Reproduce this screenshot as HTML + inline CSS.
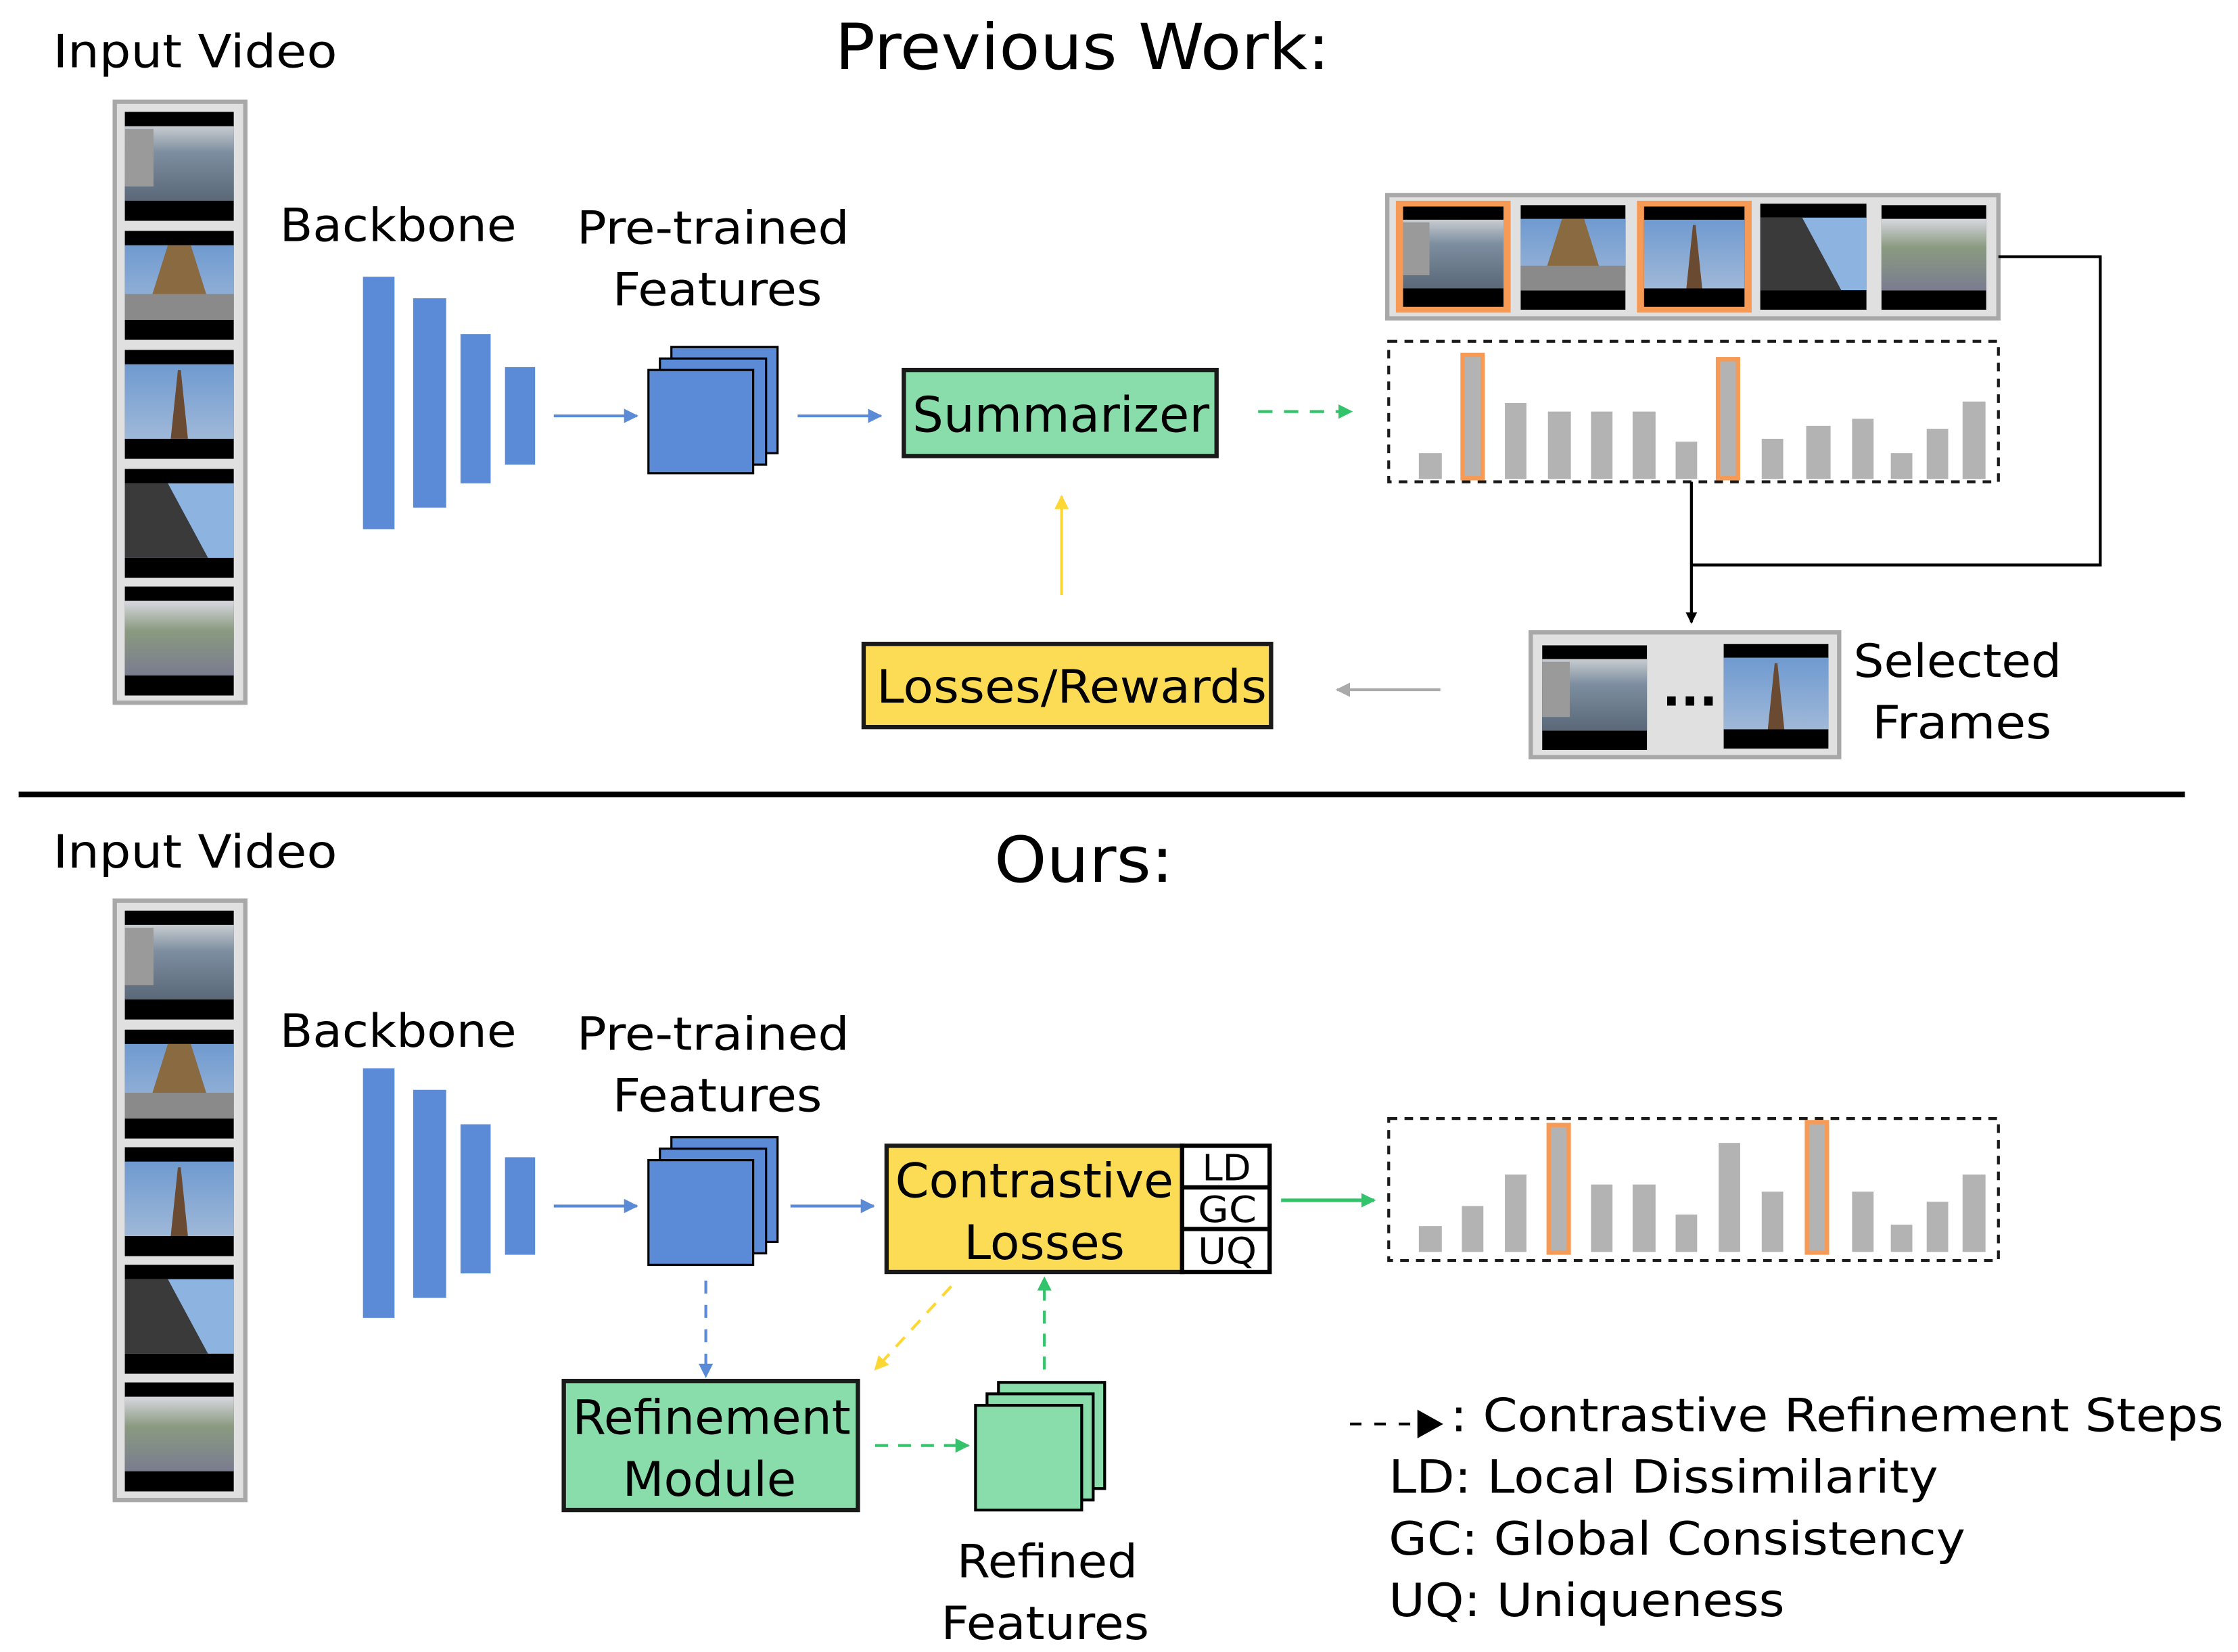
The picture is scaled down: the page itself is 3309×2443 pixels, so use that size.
<!DOCTYPE html>
<html><head><meta charset="utf-8"><style>
html,body{margin:0;padding:0;background:#fff}
svg{display:block}
text{font-family:"DejaVu Sans","Liberation Sans",sans-serif;fill:#000}
</style></head><body>
<svg width="3309" height="2443" viewBox="0 0 1560 1152" preserveAspectRatio="none" xmlns="http://www.w3.org/2000/svg">
<defs>
<linearGradient id="sky" x1="0" y1="0" x2="0" y2="1"><stop offset="0" stop-color="#6f9ad0"/><stop offset="1" stop-color="#9fb8d8"/></linearGradient>
<linearGradient id="river" x1="0" y1="0" x2="0" y2="1"><stop offset="0" stop-color="#c8ccd0"/><stop offset="0.35" stop-color="#7d8ea0"/><stop offset="1" stop-color="#5a6878"/></linearGradient>
<linearGradient id="park" x1="0" y1="0" x2="0" y2="1"><stop offset="0" stop-color="#d8d8e0"/><stop offset="0.4" stop-color="#8a9a80"/><stop offset="1" stop-color="#7a7c90"/></linearGradient>
<symbol id="f1" viewBox="0 0 76 76"><rect width="76" height="76" fill="#000"/><rect y="10" width="76" height="52" fill="url(#river)"/><rect y="12" width="20" height="40" fill="#9a9a9a"/></symbol>
<symbol id="f2" viewBox="0 0 76 76"><rect width="76" height="76" fill="#000"/><rect y="10" width="76" height="52" fill="url(#sky)"/><polygon points="30,10 46,10 58,48 18,48" fill="#8a6a40"/><rect y="44" width="76" height="18" fill="#8a8a8a"/></symbol>
<symbol id="f3" viewBox="0 0 76 76"><rect width="76" height="76" fill="#000"/><rect y="10" width="76" height="52" fill="url(#sky)"/><polygon points="37,14 39,14 44,62 32,62" fill="#6a4a30"/></symbol>
<symbol id="f4" viewBox="0 0 76 76"><rect width="76" height="76" fill="#000"/><rect y="10" width="76" height="52" fill="#8db4e0"/><polygon points="0,10 30,10 58,62 0,62" fill="#3a3a3a"/></symbol>
<symbol id="f5" viewBox="0 0 76 76"><rect width="76" height="76" fill="#000"/><rect y="10" width="76" height="52" fill="url(#park)"/></symbol>
<marker id="ab" markerWidth="10" markerHeight="10" refX="9" refY="5" orient="auto" markerUnits="userSpaceOnUse" viewBox="0 0 10 10"><path d="M0,0 L10,5 L0,10z" fill="#5b8bd6"/></marker>
<marker id="ag" markerWidth="10" markerHeight="10" refX="9" refY="5" orient="auto" markerUnits="userSpaceOnUse" viewBox="0 0 10 10"><path d="M0,0 L10,5 L0,10z" fill="#33c36b"/></marker>
<marker id="ay" markerWidth="10" markerHeight="10" refX="9" refY="5" orient="auto" markerUnits="userSpaceOnUse" viewBox="0 0 10 10"><path d="M0,0 L10,5 L0,10z" fill="#fdd835"/></marker>
<marker id="agr" markerWidth="10" markerHeight="10" refX="9" refY="5" orient="auto" markerUnits="userSpaceOnUse" viewBox="0 0 10 10"><path d="M0,0 L10,5 L0,10z" fill="#aaa"/></marker>
<marker id="ak" markerWidth="8" markerHeight="8" refX="7" refY="4" orient="auto" markerUnits="userSpaceOnUse" viewBox="0 0 8 8"><path d="M0,0 L8,4 L0,8z" fill="#000"/></marker>
</defs>

<!-- ================= TOP ================= -->
<text x="37" y="47" font-size="32" textLength="198" lengthAdjust="spacingAndGlyphs">Input Video</text>
<text x="582" y="48" font-size="44" textLength="345" lengthAdjust="spacingAndGlyphs">Previous Work:</text>

<rect x="80" y="71" width="91" height="419" fill="#e0e0e0" stroke="#a8a8a8" stroke-width="3"/>
<use href="#f1" x="87" y="78" width="76" height="76"/>
<use href="#f2" x="87" y="161" width="76" height="76"/>
<use href="#f3" x="87" y="244" width="76" height="76"/>
<use href="#f4" x="87" y="327" width="76" height="76"/>
<use href="#f5" x="87" y="409" width="76" height="76"/>

<text x="195" y="168" font-size="32" textLength="165" lengthAdjust="spacingAndGlyphs">Backbone</text>
<g fill="#5b8bd6">
<rect x="253" y="193" width="22" height="176"/><rect x="288" y="208" width="23" height="146"/>
<rect x="321" y="233" width="21" height="104"/><rect x="352" y="256" width="21" height="68"/>
</g>
<line x1="386" y1="290" x2="444" y2="290" stroke="#5b8bd6" stroke-width="2" marker-end="url(#ab)"/>
<text x="402" y="170" font-size="32" textLength="190" lengthAdjust="spacingAndGlyphs">Pre-trained</text>
<text x="427" y="213" font-size="32" textLength="146" lengthAdjust="spacingAndGlyphs">Features</text>
<g fill="#5b8bd6" stroke="#000" stroke-width="1.5">
<rect x="468" y="242" width="74" height="74"/><rect x="460" y="250" width="74" height="74"/><rect x="452" y="258" width="73" height="72"/>
</g>
<line x1="556" y1="290" x2="614" y2="290" stroke="#5b8bd6" stroke-width="2" marker-end="url(#ab)"/>
<rect x="630" y="258" width="218" height="60" fill="#88ddaa" stroke="#1a1a1a" stroke-width="3"/>
<text x="636" y="301" font-size="34" textLength="207" lengthAdjust="spacingAndGlyphs">Summarizer</text>
<line x1="877" y1="287" x2="942" y2="287" stroke="#33c36b" stroke-width="2" stroke-dasharray="10,8" marker-end="url(#ag)"/>

<rect x="967" y="136" width="426" height="86" fill="#e0e0e0" stroke="#a8a8a8" stroke-width="3"/>
<rect x="973" y="140" width="80" height="78" fill="#f79a55"/>
<use href="#f1" x="977" y="144" width="72" height="70"/>
<use href="#f2" x="1058" y="143" width="77" height="73"/>
<rect x="1141" y="140" width="80" height="78" fill="#f79a55"/>
<use href="#f3" x="1145" y="144" width="72" height="70"/>
<use href="#f4" x="1226" y="142" width="76" height="74"/>
<use href="#f5" x="1310" y="143" width="76" height="73"/>

<rect x="968" y="238" width="425" height="98" fill="none" stroke="#1a1a1a" stroke-width="2" stroke-dasharray="6,5"/>
<g fill="#b3b3b3">
<rect x="989" y="316" width="16" height="18"/><rect x="1049" y="281" width="15" height="53"/>
<rect x="1079" y="287" width="16" height="47"/><rect x="1109" y="287" width="15" height="47"/>
<rect x="1138" y="287" width="16" height="47"/><rect x="1168" y="308" width="15" height="26"/>
<rect x="1228" y="306" width="15" height="28"/><rect x="1259" y="297" width="17" height="37"/>
<rect x="1291" y="292" width="15" height="42"/><rect x="1318" y="316" width="15" height="18"/>
<rect x="1343" y="299" width="15" height="35"/><rect x="1368" y="280" width="16" height="54"/>
</g>
<rect x="1019.5" y="247.5" width="14" height="86" fill="#b3b3b3" stroke="#f79a55" stroke-width="3"/>
<rect x="1197.5" y="250.5" width="14" height="83" fill="#b3b3b3" stroke="#f79a55" stroke-width="3"/>

<polyline points="1393,179 1464,179 1464,394 1179,394" fill="none" stroke="#000" stroke-width="2"/>
<line x1="1179" y1="336" x2="1179" y2="434" stroke="#000" stroke-width="2" marker-end="url(#ak)"/>

<rect x="1067" y="441" width="215" height="87" fill="#e0e0e0" stroke="#a8a8a8" stroke-width="3"/>
<use href="#f1" x="1073" y="450" width="77" height="73"/>
<use href="#f3" x="1200" y="449" width="76" height="73"/>
<text x="1178" y="492" font-size="34" text-anchor="middle" font-weight="bold">...</text>
<text x="1292" y="472" font-size="32" textLength="145" lengthAdjust="spacingAndGlyphs">Selected</text>
<text x="1305" y="515" font-size="32" textLength="125" lengthAdjust="spacingAndGlyphs">Frames</text>

<line x1="1004" y1="481" x2="932" y2="481" stroke="#aaa" stroke-width="2" marker-end="url(#agr)"/>
<rect x="602" y="449" width="284" height="58" fill="#fddc55" stroke="#1a1a1a" stroke-width="3"/>
<text x="611" y="490" font-size="32" textLength="272" lengthAdjust="spacingAndGlyphs">Losses/Rewards</text>
<line x1="740" y1="415" x2="740" y2="346" stroke="#fdd835" stroke-width="2" marker-end="url(#ay)"/>

<line x1="13" y1="554" x2="1523" y2="554" stroke="#000" stroke-width="4"/>

<!-- ================= BOTTOM ================= -->
<text x="37" y="605" font-size="32" textLength="198" lengthAdjust="spacingAndGlyphs">Input Video</text>
<text x="693" y="615" font-size="44" textLength="125" lengthAdjust="spacingAndGlyphs">Ours:</text>

<rect x="80" y="628" width="91" height="418" fill="#e0e0e0" stroke="#a8a8a8" stroke-width="3"/>
<use href="#f1" x="87" y="635" width="76" height="76"/>
<use href="#f2" x="87" y="718" width="76" height="76"/>
<use href="#f3" x="87" y="800" width="76" height="76"/>
<use href="#f4" x="87" y="882" width="76" height="76"/>
<use href="#f5" x="87" y="964" width="76" height="76"/>

<text x="195" y="730" font-size="32" textLength="165" lengthAdjust="spacingAndGlyphs">Backbone</text>
<g fill="#5b8bd6">
<rect x="253" y="745" width="22" height="174"/><rect x="288" y="760" width="23" height="145"/>
<rect x="321" y="784" width="21" height="104"/><rect x="352" y="807" width="21" height="68"/>
</g>
<line x1="386" y1="841" x2="444" y2="841" stroke="#5b8bd6" stroke-width="2" marker-end="url(#ab)"/>
<text x="402" y="732" font-size="32" textLength="190" lengthAdjust="spacingAndGlyphs">Pre-trained</text>
<text x="427" y="775" font-size="32" textLength="146" lengthAdjust="spacingAndGlyphs">Features</text>
<g fill="#5b8bd6" stroke="#000" stroke-width="1.5">
<rect x="468" y="793" width="74" height="73"/><rect x="460" y="801" width="74" height="73"/><rect x="452" y="809" width="73" height="73"/>
</g>
<line x1="551" y1="841" x2="609" y2="841" stroke="#5b8bd6" stroke-width="2" marker-end="url(#ab)"/>

<rect x="618" y="799" width="206" height="88" fill="#fddc55" stroke="#1a1a1a" stroke-width="3"/>
<rect x="824" y="799" width="61" height="88" fill="#fff" stroke="#000" stroke-width="3"/>
<line x1="824" y1="828" x2="885" y2="828" stroke="#000" stroke-width="3"/>
<line x1="824" y1="857" x2="885" y2="857" stroke="#000" stroke-width="3"/>
<text x="624" y="835" font-size="33" textLength="194" lengthAdjust="spacingAndGlyphs">Contrastive</text>
<text x="672" y="878" font-size="33" textLength="112" lengthAdjust="spacingAndGlyphs">Losses</text>
<text x="838" y="823" font-size="25" textLength="34" lengthAdjust="spacingAndGlyphs">LD</text>
<text x="835" y="852" font-size="25" textLength="41" lengthAdjust="spacingAndGlyphs">GC</text>
<text x="835" y="881" font-size="25" textLength="41" lengthAdjust="spacingAndGlyphs">UQ</text>

<line x1="893" y1="837" x2="958" y2="837" stroke="#33c36b" stroke-width="2.5" marker-end="url(#ag)"/>

<rect x="968" y="780" width="425" height="99" fill="none" stroke="#1a1a1a" stroke-width="2" stroke-dasharray="6,5"/>
<g fill="#b3b3b3">
<rect x="989" y="855" width="16" height="18"/><rect x="1019" y="841" width="15" height="32"/>
<rect x="1049" y="819" width="15" height="54"/><rect x="1109" y="826" width="15" height="47"/>
<rect x="1138" y="826" width="16" height="47"/><rect x="1168" y="847" width="15" height="26"/>
<rect x="1198" y="797" width="15" height="76"/><rect x="1228" y="831" width="15" height="42"/>
<rect x="1291" y="831" width="15" height="42"/><rect x="1318" y="854" width="15" height="19"/>
<rect x="1343" y="838" width="15" height="35"/><rect x="1368" y="819" width="16" height="54"/>
</g>
<rect x="1079.5" y="784.5" width="14" height="89" fill="#b3b3b3" stroke="#f79a55" stroke-width="3"/>
<rect x="1259.5" y="782.5" width="14" height="91" fill="#b3b3b3" stroke="#f79a55" stroke-width="3"/>

<line x1="492" y1="893" x2="492" y2="960" stroke="#5b8bd6" stroke-width="2" stroke-dasharray="9,8" marker-end="url(#ab)"/>
<line x1="663" y1="897" x2="610" y2="955" stroke="#fdd835" stroke-width="2" stroke-dasharray="9,7" marker-end="url(#ay)"/>

<rect x="393" y="963" width="205" height="90" fill="#88ddaa" stroke="#1a1a1a" stroke-width="3"/>
<text x="399" y="1000" font-size="33" textLength="194" lengthAdjust="spacingAndGlyphs">Refinement</text>
<text x="434" y="1043" font-size="33" textLength="121" lengthAdjust="spacingAndGlyphs">Module</text>

<line x1="610" y1="1008" x2="675" y2="1008" stroke="#33c36b" stroke-width="2" stroke-dasharray="9,7" marker-end="url(#ag)"/>
<g fill="#88ddaa" stroke="#000" stroke-width="2">
<rect x="696" y="964" width="74" height="74"/><rect x="688" y="972" width="74" height="74"/><rect x="680" y="980" width="74" height="73"/>
</g>
<line x1="728" y1="955" x2="728" y2="891" stroke="#33c36b" stroke-width="2" stroke-dasharray="9,7" marker-end="url(#ag)"/>
<text x="667" y="1100" font-size="32" textLength="126" lengthAdjust="spacingAndGlyphs">Refined</text>
<text x="656" y="1143" font-size="32" textLength="145" lengthAdjust="spacingAndGlyphs">Features</text>

<line x1="941" y1="993" x2="990" y2="993" stroke="#000" stroke-width="2" stroke-dasharray="8,9"/>
<path d="M988,983 L1006,993 L988,1003z" fill="#000"/>
<text x="1011" y="998" font-size="32" textLength="539" lengthAdjust="spacingAndGlyphs">: Contrastive Refinement Steps</text>
<text x="968" y="1041" font-size="32" textLength="383" lengthAdjust="spacingAndGlyphs">LD: Local Dissimilarity</text>
<text x="968" y="1084" font-size="32" textLength="402" lengthAdjust="spacingAndGlyphs">GC: Global Consistency</text>
<text x="968" y="1127" font-size="32" textLength="276" lengthAdjust="spacingAndGlyphs">UQ: Uniqueness</text>
</svg>
</body></html>
